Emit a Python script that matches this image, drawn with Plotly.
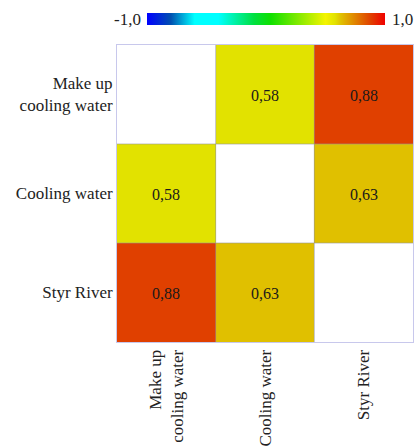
import plotly.graph_objects as go

# Correlation matrix between sampling sites (diagonal left blank)
sites = ["Make up<br>cooling water", "Cooling water", "Styr River"]
corr = [
    [None, 0.58, 0.88],
    [0.58, None, 0.63],
    [0.88, 0.63, None],
]
scale_min, scale_max = -1.0, 1.0
scale_labels = ["-1,0", "1,0"]

# jet-like scale from blue through cyan, green, yellow to red
colorscale = [
    [0.00, "#0000ff"],
    [0.10, "#0050b0"],
    [0.20, "#00ffff"],
    [0.30, "#00ffff"],
    [0.45, "#00e040"],
    [0.52, "#10e000"],
    [0.75, "#f4f400"],
    [0.79, "#e2e200"],
    [0.815, "#e0c000"],
    [0.94, "#e04000"],
    [1.00, "#f00000"],
]

idx = list(range(len(sites)))
font_family = "Times New Roman, Tinos, DejaVu Serif, serif"

fig = go.Figure(
    go.Heatmap(
        z=corr,
        x=idx,
        y=idx,
        zmin=scale_min,
        zmax=scale_max,
        colorscale=colorscale,
        texttemplate="%{z:.2f}",
        textfont=dict(family=font_family, size=16, color="#1a1a1a"),
        hoverongaps=False,
        colorbar=dict(
            orientation="h",
            thickness=12,
            len=0.804,
            lenmode="fraction",
            x=0.503,
            xanchor="center",
            y=1.0875,
            yanchor="middle",
            ypad=0,
            xpad=0,
            outlinewidth=0,
            showticklabels=False,
            ticks="",
        ),
    )
)

# thin separators between cells
for b in [0.5, 1.5]:
    fig.add_shape(type="line", xref="x", yref="y", x0=b, x1=b, y0=-0.5, y1=2.5,
                  line=dict(color="rgba(150,150,150,0.6)", width=1), layer="above")
    fig.add_shape(type="line", xref="x", yref="y", x0=-0.5, x1=2.5, y0=b, y1=b,
                  line=dict(color="rgba(150,150,150,0.6)", width=1), layer="above")

# colour-scale end labels beside the bar
fig.add_annotation(text=scale_labels[0], xref="paper", yref="paper", x=0.088, y=1.0875,
                   xanchor="right", yanchor="middle", showarrow=False,
                   font=dict(family=font_family, size=17, color="#222"))
fig.add_annotation(text=scale_labels[1], xref="paper", yref="paper", x=0.922, y=1.0875,
                   xanchor="left", yanchor="middle", showarrow=False,
                   font=dict(family=font_family, size=17, color="#222"))

axis_common = dict(
    tickmode="array",
    tickvals=idx,
    ticktext=sites,
    showgrid=False,
    zeroline=False,
    showline=True,
    mirror=True,
    linecolor="#c8c8ec",
    linewidth=1,
    ticks="",
    range=[-0.5, 2.5],
    tickfont=dict(family=font_family, size=17, color="#222"),
)

fig.update_layout(
    width=414,
    height=448,
    margin=dict(l=117, r=1, t=45, b=106),
    paper_bgcolor="white",
    plot_bgcolor="white",
    separators=", ",
    font=dict(family=font_family),
    xaxis=dict(axis_common, tickangle=-90),
    yaxis=dict(axis_common, range=[2.5, -0.5]),
)

fig.write_html("out.html")
